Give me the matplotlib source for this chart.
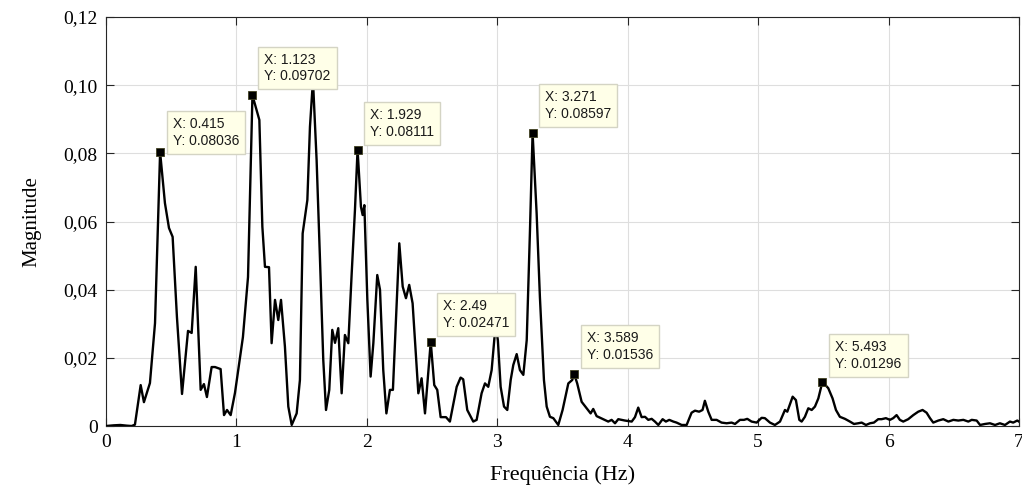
import matplotlib
matplotlib.use('Agg')
import numpy as np
from matplotlib import pyplot as plt

# Spectrum magnitude, traced vertex by vertex
freq = [
    0.000, 0.060, 0.110, 0.160, 0.197, 0.222, 0.266, 0.291, 0.337, 0.376,
    0.415, 0.452, 0.483, 0.511, 0.544, 0.583, 0.629, 0.657, 0.688, 0.726,
    0.751, 0.774, 0.810, 0.836, 0.879, 0.905, 0.928, 0.956, 0.989, 1.050,
    1.089, 1.123, 1.176, 1.199, 1.219, 1.250, 1.270, 1.296, 1.321, 1.342,
    1.372, 1.398, 1.424, 1.462, 1.487, 1.508, 1.544, 1.564, 1.587, 1.615,
    1.641, 1.666, 1.687, 1.712, 1.735, 1.756, 1.781, 1.807, 1.832, 1.858,
    1.884, 1.909, 1.929, 1.955, 1.968, 1.981, 2.004, 2.029, 2.050, 2.080,
    2.101, 2.126, 2.150, 2.177, 2.200, 2.249, 2.275, 2.300, 2.325, 2.351,
    2.395, 2.420, 2.446, 2.490, 2.517, 2.540, 2.566, 2.607, 2.637, 2.689,
    2.719, 2.739, 2.770, 2.816, 2.842, 2.880, 2.906, 2.931, 2.957, 2.988,
    3.005, 3.026, 3.052, 3.077, 3.103, 3.123, 3.149, 3.174, 3.200, 3.226,
    3.251, 3.271, 3.302, 3.327, 3.358, 3.379, 3.404, 3.430, 3.468, 3.501,
    3.545, 3.575, 3.589, 3.613, 3.647, 3.685, 3.716, 3.736, 3.762, 3.813,
    3.851, 3.877, 3.903, 3.928, 3.979, 4.031, 4.056, 4.081, 4.107, 4.133,
    4.158, 4.184, 4.209, 4.235, 4.268, 4.293, 4.319, 4.350, 4.375, 4.414,
    4.452, 4.490, 4.516, 4.548, 4.574, 4.592, 4.618, 4.644, 4.682, 4.720,
    4.759, 4.797, 4.823, 4.861, 4.892, 4.917, 4.950, 4.989, 5.027, 5.052,
    5.091, 5.129, 5.168, 5.206, 5.224, 5.265, 5.290, 5.316, 5.334, 5.359,
    5.385, 5.411, 5.436, 5.462, 5.493, 5.538, 5.571, 5.597, 5.627, 5.666,
    5.704, 5.735, 5.768, 5.794, 5.827, 5.858, 5.888, 5.921, 5.947, 5.980,
    6.011, 6.036, 6.062, 6.087, 6.113, 6.151, 6.190, 6.228, 6.261, 6.292,
    6.318, 6.343, 6.382, 6.420, 6.459, 6.497, 6.535, 6.574, 6.612, 6.638,
    6.676, 6.702, 6.740, 6.778, 6.817, 6.854, 6.893, 6.931, 6.956, 6.987,
    7.000,
]
mag = [
    0.0000, 0.0002, 0.0003, 0.0001, 0.0000, 0.0004, 0.0120, 0.0070, 0.0126, 0.0302,
    0.08036, 0.0654, 0.0581, 0.0555, 0.0320, 0.0094, 0.0279, 0.0273, 0.0467, 0.0106,
    0.0123, 0.0085, 0.0173, 0.0173, 0.0167, 0.0032, 0.0047, 0.0032, 0.0097, 0.0261,
    0.0437, 0.09702, 0.0898, 0.0585, 0.0467, 0.0466, 0.0243, 0.0370, 0.0311, 0.0370,
    0.0233, 0.0057, 0.0003, 0.0037, 0.0135, 0.0565, 0.0663, 0.0878, 0.1015, 0.0780,
    0.0487, 0.0194, 0.0047, 0.0106, 0.0282, 0.0244, 0.0287, 0.0096, 0.0267, 0.0243,
    0.0448, 0.0634, 0.08111, 0.0643, 0.0619, 0.0648, 0.0370, 0.0145, 0.0243, 0.0443,
    0.0400, 0.0164, 0.0037, 0.0106, 0.0106, 0.0536, 0.0409, 0.0375, 0.0414, 0.0360,
    0.0096, 0.0140, 0.0037, 0.02471, 0.0120, 0.0106, 0.0026, 0.0026, 0.0013, 0.0115,
    0.0142, 0.0137, 0.0047, 0.0013, 0.0018, 0.0096, 0.0125, 0.0115, 0.0164, 0.0300,
    0.0250, 0.0115, 0.0057, 0.0047, 0.0135, 0.0179, 0.0211, 0.0164, 0.0150, 0.0252,
    0.0575, 0.08597, 0.0624, 0.0379, 0.0135, 0.0057, 0.0027, 0.0023, 0.0003, 0.0047,
    0.0125, 0.0135, 0.01536, 0.0125, 0.0071, 0.0052, 0.0037, 0.0050, 0.0029, 0.0020,
    0.0013, 0.0018, 0.0008, 0.0020, 0.0016, 0.0013, 0.0026, 0.0054, 0.0026, 0.0027,
    0.0018, 0.0021, 0.0013, 0.0003, 0.0020, 0.0013, 0.0018, 0.0013, 0.0010, 0.0003,
    0.0003, 0.0039, 0.0045, 0.0042, 0.0047, 0.0074, 0.0042, 0.0018, 0.0018, 0.0010,
    0.0008, 0.0010, 0.0006, 0.0018, 0.0018, 0.0021, 0.0013, 0.0010, 0.0024, 0.0023,
    0.0010, 0.0003, 0.0013, 0.0047, 0.0042, 0.0086, 0.0076, 0.0018, 0.0013, 0.0027,
    0.0052, 0.0047, 0.0057, 0.0081, 0.01296, 0.0111, 0.0081, 0.0047, 0.0027, 0.0021,
    0.0013, 0.0006, 0.0008, 0.0010, 0.0003, 0.0008, 0.0010, 0.0020, 0.0020, 0.0023,
    0.0018, 0.0023, 0.0032, 0.0018, 0.0013, 0.0020, 0.0032, 0.0042, 0.0047, 0.0039,
    0.0023, 0.0010, 0.0016, 0.0020, 0.0013, 0.0018, 0.0016, 0.0018, 0.0013, 0.0018,
    0.0016, 0.0003, 0.0006, 0.0008, 0.0003, 0.0008, 0.0003, 0.0013, 0.0010, 0.0016,
    0.0013,
]

# Data tips placed on the main peaks
tip_x = [0.415, 1.123, 1.929, 2.49, 3.271, 3.589, 5.493]
tip_y = [0.08036, 0.09702, 0.08111, 0.02471, 0.08597, 0.01536, 0.01296]
# box corner offset from the tip, in pixels (right, up)
tip_offset = [(7, -2), (6, 6), (6, 5), (6, 6), (6, 6), (7, 6), (7, 5)]

xticks = [0, 1, 2, 3, 4, 5, 6, 7]
xtick_labels = ['0', '1', '2', '3', '4', '5', '6', '7']
yticks = [0, 0.02, 0.04, 0.06, 0.08, 0.10, 0.12]
ytick_labels = ['0', '0,02', '0,04', '0,06', '0,08', '0,10', '0,12']

serif = 'Liberation Serif'
sans = 'Liberation Sans'

fig = plt.figure(figsize=(10.22, 4.93), dpi=100)
ax = fig.add_axes([0.1037, 0.1359, 0.8933, 0.8296])

ax.plot(freq, mag, color='black', lw=1.7, zorder=3)

ax.set_xlim(0, 7)
ax.set_ylim(0, 0.12)
ax.set_xticks(xticks)
ax.set_xticklabels(xtick_labels, fontfamily=serif, fontsize=14)
ax.set_yticks(yticks)
ax.set_yticklabels(ytick_labels, fontfamily=serif, fontsize=14)
ax.tick_params(direction='in', length=6, width=0.8, top=True, right=True,
               colors='#262626', labelcolor='black', pad=6)
ax.grid(True, color='#dedede', lw=0.8)
ax.set_axisbelow(True)
for sp in ax.spines.values():
    sp.set_color('#262626')
    sp.set_linewidth(0.8)

ax.set_xlabel('Frequência (Hz)', fontfamily=serif, fontsize=16, labelpad=10)
ax.set_ylabel('Magnitude', fontfamily=serif, fontsize=15, labelpad=16)

px = 72.0 / fig.dpi
pad_px = 6
for x, y, (dx, dy) in zip(tip_x, tip_y, tip_offset):
    ax.plot(x, y, marker='s', ms=6, mfc='black', mec='#404020', mew=0.6,
            zorder=6, clip_on=False)
    ax.annotate(f'X: {x:.4g}\nY: {y:.4g}', (x, y),
                xytext=((dx + pad_px) * px, (dy + pad_px) * px),
                textcoords='offset points', ha='left', va='bottom',
                fontfamily=sans, fontsize=10, color='#1a1a1a', linespacing=1.25,
                bbox=dict(boxstyle='square,pad=0.43', fc='#ffffe8', ec='#d4d4c4', lw=1.0),
                zorder=5, annotation_clip=False)

fig.savefig('out.png', dpi=100)
